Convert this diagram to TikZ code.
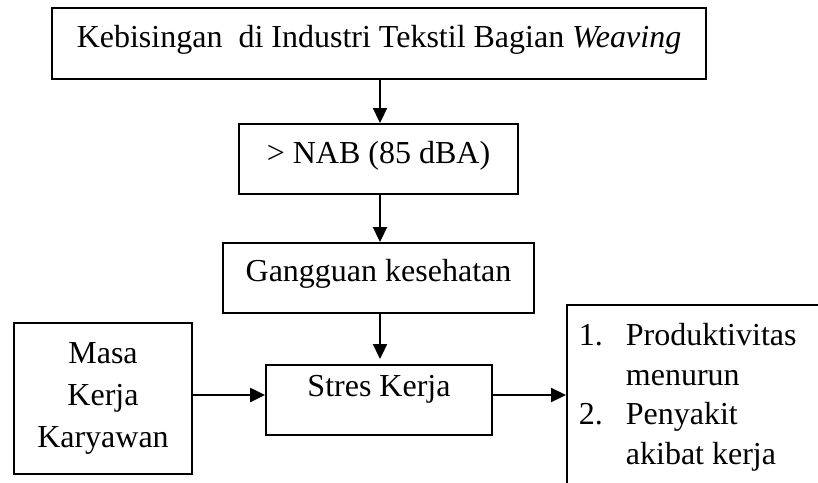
\documentclass[tikz,border=0pt]{standalone}
\usepackage{fontspec}
\setmainfont{Liberation Serif}
\usetikzlibrary{arrows.meta}
\begin{document}
\begin{tikzpicture}[x=1pt,y=-1pt,
  box/.style={draw, line width=1.8pt, inner sep=0pt, font=\fontsize{32}{42}\selectfont},
  arr/.style={line width=2.2pt, -{Triangle[width=14pt,length=15pt]}}]
\useasboundingbox (0,0) rectangle (818,482);
\clip (0,0) rectangle (818,482);
\node[box, anchor=north, minimum width=654pt, text height=40pt, text depth=31pt] (top) at (379,7)
  {Kebisingan\ \ di Industri Tekstil Bagian \textit{Weaving}};
\node[box, anchor=north, minimum width=279pt, text height=40pt, text depth=30pt] (nab) at (378.5,123)
  {> NAB (85 dBA)};
\node[box, anchor=north, minimum width=311pt, text height=39pt, text depth=31pt] (gang) at (378.5,242)
  {Gangguan kesehatan};
\node[box, anchor=north, minimum width=226pt, text height=32pt, text depth=38pt] (stres) at (379,364)
  {Stres Kerja};
\node[box, anchor=north, minimum width=178pt, text height=41pt, text depth=110pt] (masa) at (103,322)
  {\begin{tabular}[t]{@{}c@{}}Masa\\Kerja\\Karyawan\end{tabular}};
\node[box, anchor=north west, inner xsep=12pt, text height=41pt, text depth=220pt,
  font=\fontsize{32}{39.5}\selectfont] (hasil) at (566,304)
  {\makebox[300pt][l]{\begin{tabular}[t]{@{}l@{}l@{}}\makebox[47pt][l]{1.}&Produktivitas\\&menurun\\\makebox[47pt][l]{2.}&Penyakit\\&akibat kerja\end{tabular}}};
\draw[arr] (top.south -| 380,0) -- (nab.north -| 380,0);
\draw[arr] (nab.south -| 380,0) -- (gang.north -| 380,0);
\draw[arr, shorten >=5pt] (gang.south -| 380,0) -- (stres.north -| 380,0);
\draw[arr] (masa.east |- 0,395) -- (stres.west |- 0,395);
\draw[arr] (stres.east |- 0,395) -- (hasil.west |- 0,395);
\end{tikzpicture}
\end{document}
